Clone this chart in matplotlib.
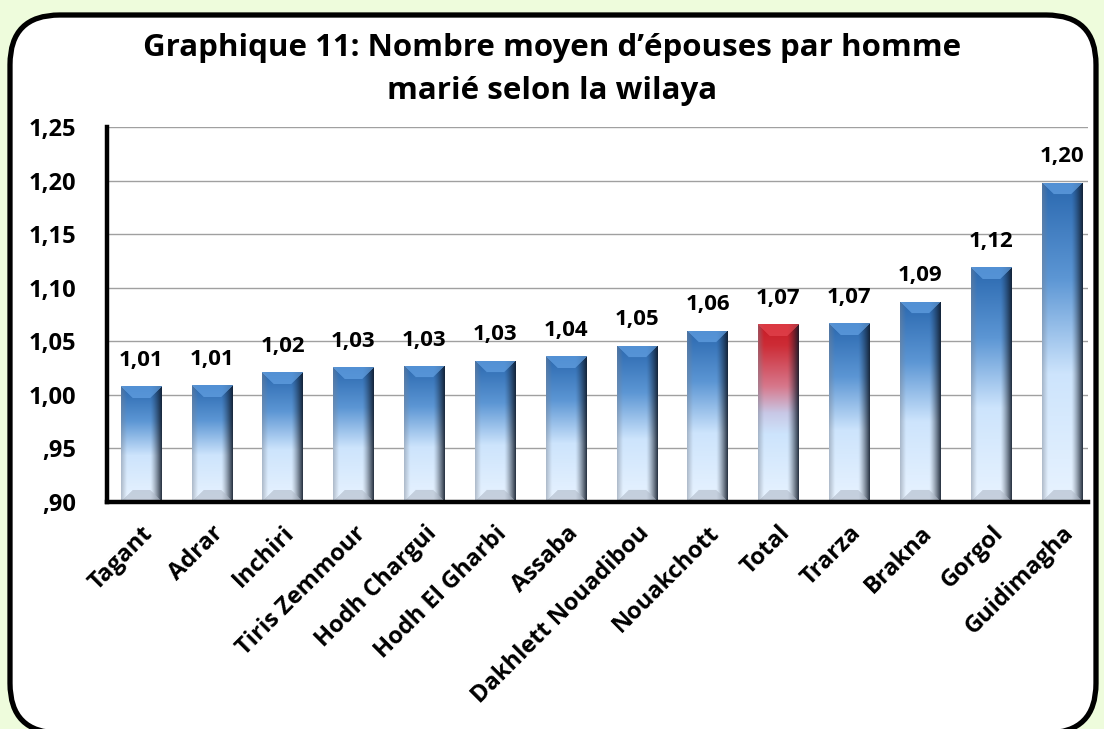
import numpy as np
import matplotlib
matplotlib.use("Agg")
import matplotlib.pyplot as plt
from matplotlib.patches import FancyBboxPatch

plt.rcParams['font.family'] = ['Open Sans', 'DejaVu Sans']
plt.rcParams['font.weight'] = 'bold'

wilayas = ['Tagant', 'Adrar', 'Inchiri', 'Tiris Zemmour', 'Hodh Chargui',
           'Hodh El Gharbi', 'Assaba', 'Dakhlett Nouadibou', 'Nouakchott',
           'Total', 'Trarza', 'Brakna', 'Gorgol', 'Guidimagha']
epouses = [1.008, 1.009, 1.021, 1.026, 1.027, 1.032, 1.036, 1.046, 1.060,
           1.066, 1.067, 1.087, 1.119, 1.198]
yticks = [0.90, 0.95, 1.00, 1.05, 1.10, 1.15, 1.20, 1.25]
ytick_labels = [',90', ',95', '1,00', '1,05', '1,10', '1,15', '1,20', '1,25']
ymin = 0.90


def bar_texture(hpx, wpx, red=False):
    # vertical gradient + edge shading + bevelled top/bottom
    v = np.linspace(0, 1, hpx)[:, None]
    u = np.linspace(0, 1, wpx)[None, :]
    if red:
        stops = [0, 0.12, 0.35, 0.5, 0.62, 1]
        cols = np.array([[200, 25, 35], [205, 45, 55], [215, 120, 140],
                         [200, 200, 230], [205, 228, 252], [232, 243, 255]]) / 255
    else:
        stops = [0, 0.3, 0.6, 1]
        cols = np.array([[42, 104, 175], [92, 150, 212], [205, 228, 252],
                         [232, 243, 255]]) / 255
    base = np.stack([np.interp(v[:, 0], stops, cols[:, k]) for k in range(3)], axis=-1)
    img = np.repeat(base[:, None, :], wpx, axis=1)
    # right edge dark
    dark = np.clip((u - 0.72) / 0.28, 0, 1) ** 1.3 * 0.85
    img = img * (1 - dark[..., None]) + np.array([15, 25, 40]) / 255 * dark[..., None]
    # left edge greyish
    grey = np.clip((0.14 - u) / 0.14, 0, 1) * 0.45
    img = img * (1 - grey[..., None]) + np.array([120, 130, 145]) / 255 * grey[..., None]
    # bevels
    b = 12
    r = np.arange(hpx)[:, None]
    c = np.arange(wpx)[None, :]
    top = (r < b) & (r <= c) & (r <= wpx - 1 - c)
    topcol = np.array([228, 70, 80]) / 255 if red else np.array([100, 162, 228]) / 255
    img[top] = img[top] * 0.3 + topcol * 0.7
    rb = hpx - 1 - r
    bot = (rb < b) & (rb <= c) & (rb <= wpx - 1 - c)
    img[bot] = img[bot] * 0.4 + np.array([175, 185, 200]) / 255 * 0.6
    return np.clip(img, 0, 1)


fig = plt.figure(figsize=(11.04, 7.29), dpi=100)
fig.patch.set_facecolor('#eefcdc')
frame = FancyBboxPatch((10 / 1104, -4 / 729), 1086 / 1104, (729 + 4 - 15) / 729,
                       boxstyle='round,pad=0,rounding_size=0.045',
                       transform=fig.transFigure, facecolor='white',
                       edgecolor='black', linewidth=3.8, mutation_aspect=1104 / 729,
                       zorder=-10)
fig.patches.append(frame)

ax = fig.add_axes([107 / 1104, 1 - 502 / 729, (1088 - 107) / 1104, (502 - 127) / 729])
ax.set_facecolor('none')
x = np.arange(len(wilayas))
bars = ax.bar(x, np.array(epouses) - ymin, bottom=ymin, width=0.57,
              color='none', edgecolor='none', zorder=3)
ax.set_xlim(-0.48, len(wilayas) - 1 + 0.37)
ax.set_ylim(ymin, 1.25)

px_per_unit = (502 - 127) / 0.35
for bar, name, val in zip(bars, wilayas, epouses):
    x0, w = bar.get_x(), bar.get_width()
    hpx = max(int(round((val - ymin) * px_per_unit)), 26)
    tex = bar_texture(hpx, 40, red=(name == 'Total'))
    im = ax.imshow(tex, extent=[x0, x0 + w, ymin, val], aspect='auto',
                   zorder=3, interpolation='bilinear')
    im.set_clip_path(bar)
    ax.text(bar.get_x() + w / 2, val + 0.019, f'{val:.2f}'.replace('.', ','),
            ha='center', va='baseline', fontsize=16, fontweight='bold')

ax.set_yticks(yticks)
ax.set_yticklabels(ytick_labels, fontsize=17, fontweight='bold')
ax.set_xticks(x)
ax.set_xticklabels(wilayas, rotation=45, ha='right', rotation_mode='anchor',
                   fontsize=17, fontweight='bold')
ax.tick_params(axis='y', length=0, pad=22)
ax.tick_params(axis='x', length=0, pad=14)
ax.grid(axis='y', color='#a0a0a0', linewidth=1.0, zorder=0)
ax.set_axisbelow(True)
for s in ['top', 'right']:
    ax.spines[s].set_visible(False)
for s in ['left', 'bottom']:
    ax.spines[s].set_linewidth(3.2)
    ax.spines[s].set_zorder(4)

fig.text(0.5, 1 - 56 / 729, 'Graphique 11: Nombre moyen d’épouses par homme',
         ha='center', va='baseline', fontsize=22.5, fontweight='bold')
fig.text(0.5, 1 - 99 / 729, 'marié selon la wilaya',
         ha='center', va='baseline', fontsize=22.5, fontweight='bold')

fig.savefig('out.png', dpi=100, facecolor=fig.get_facecolor())
